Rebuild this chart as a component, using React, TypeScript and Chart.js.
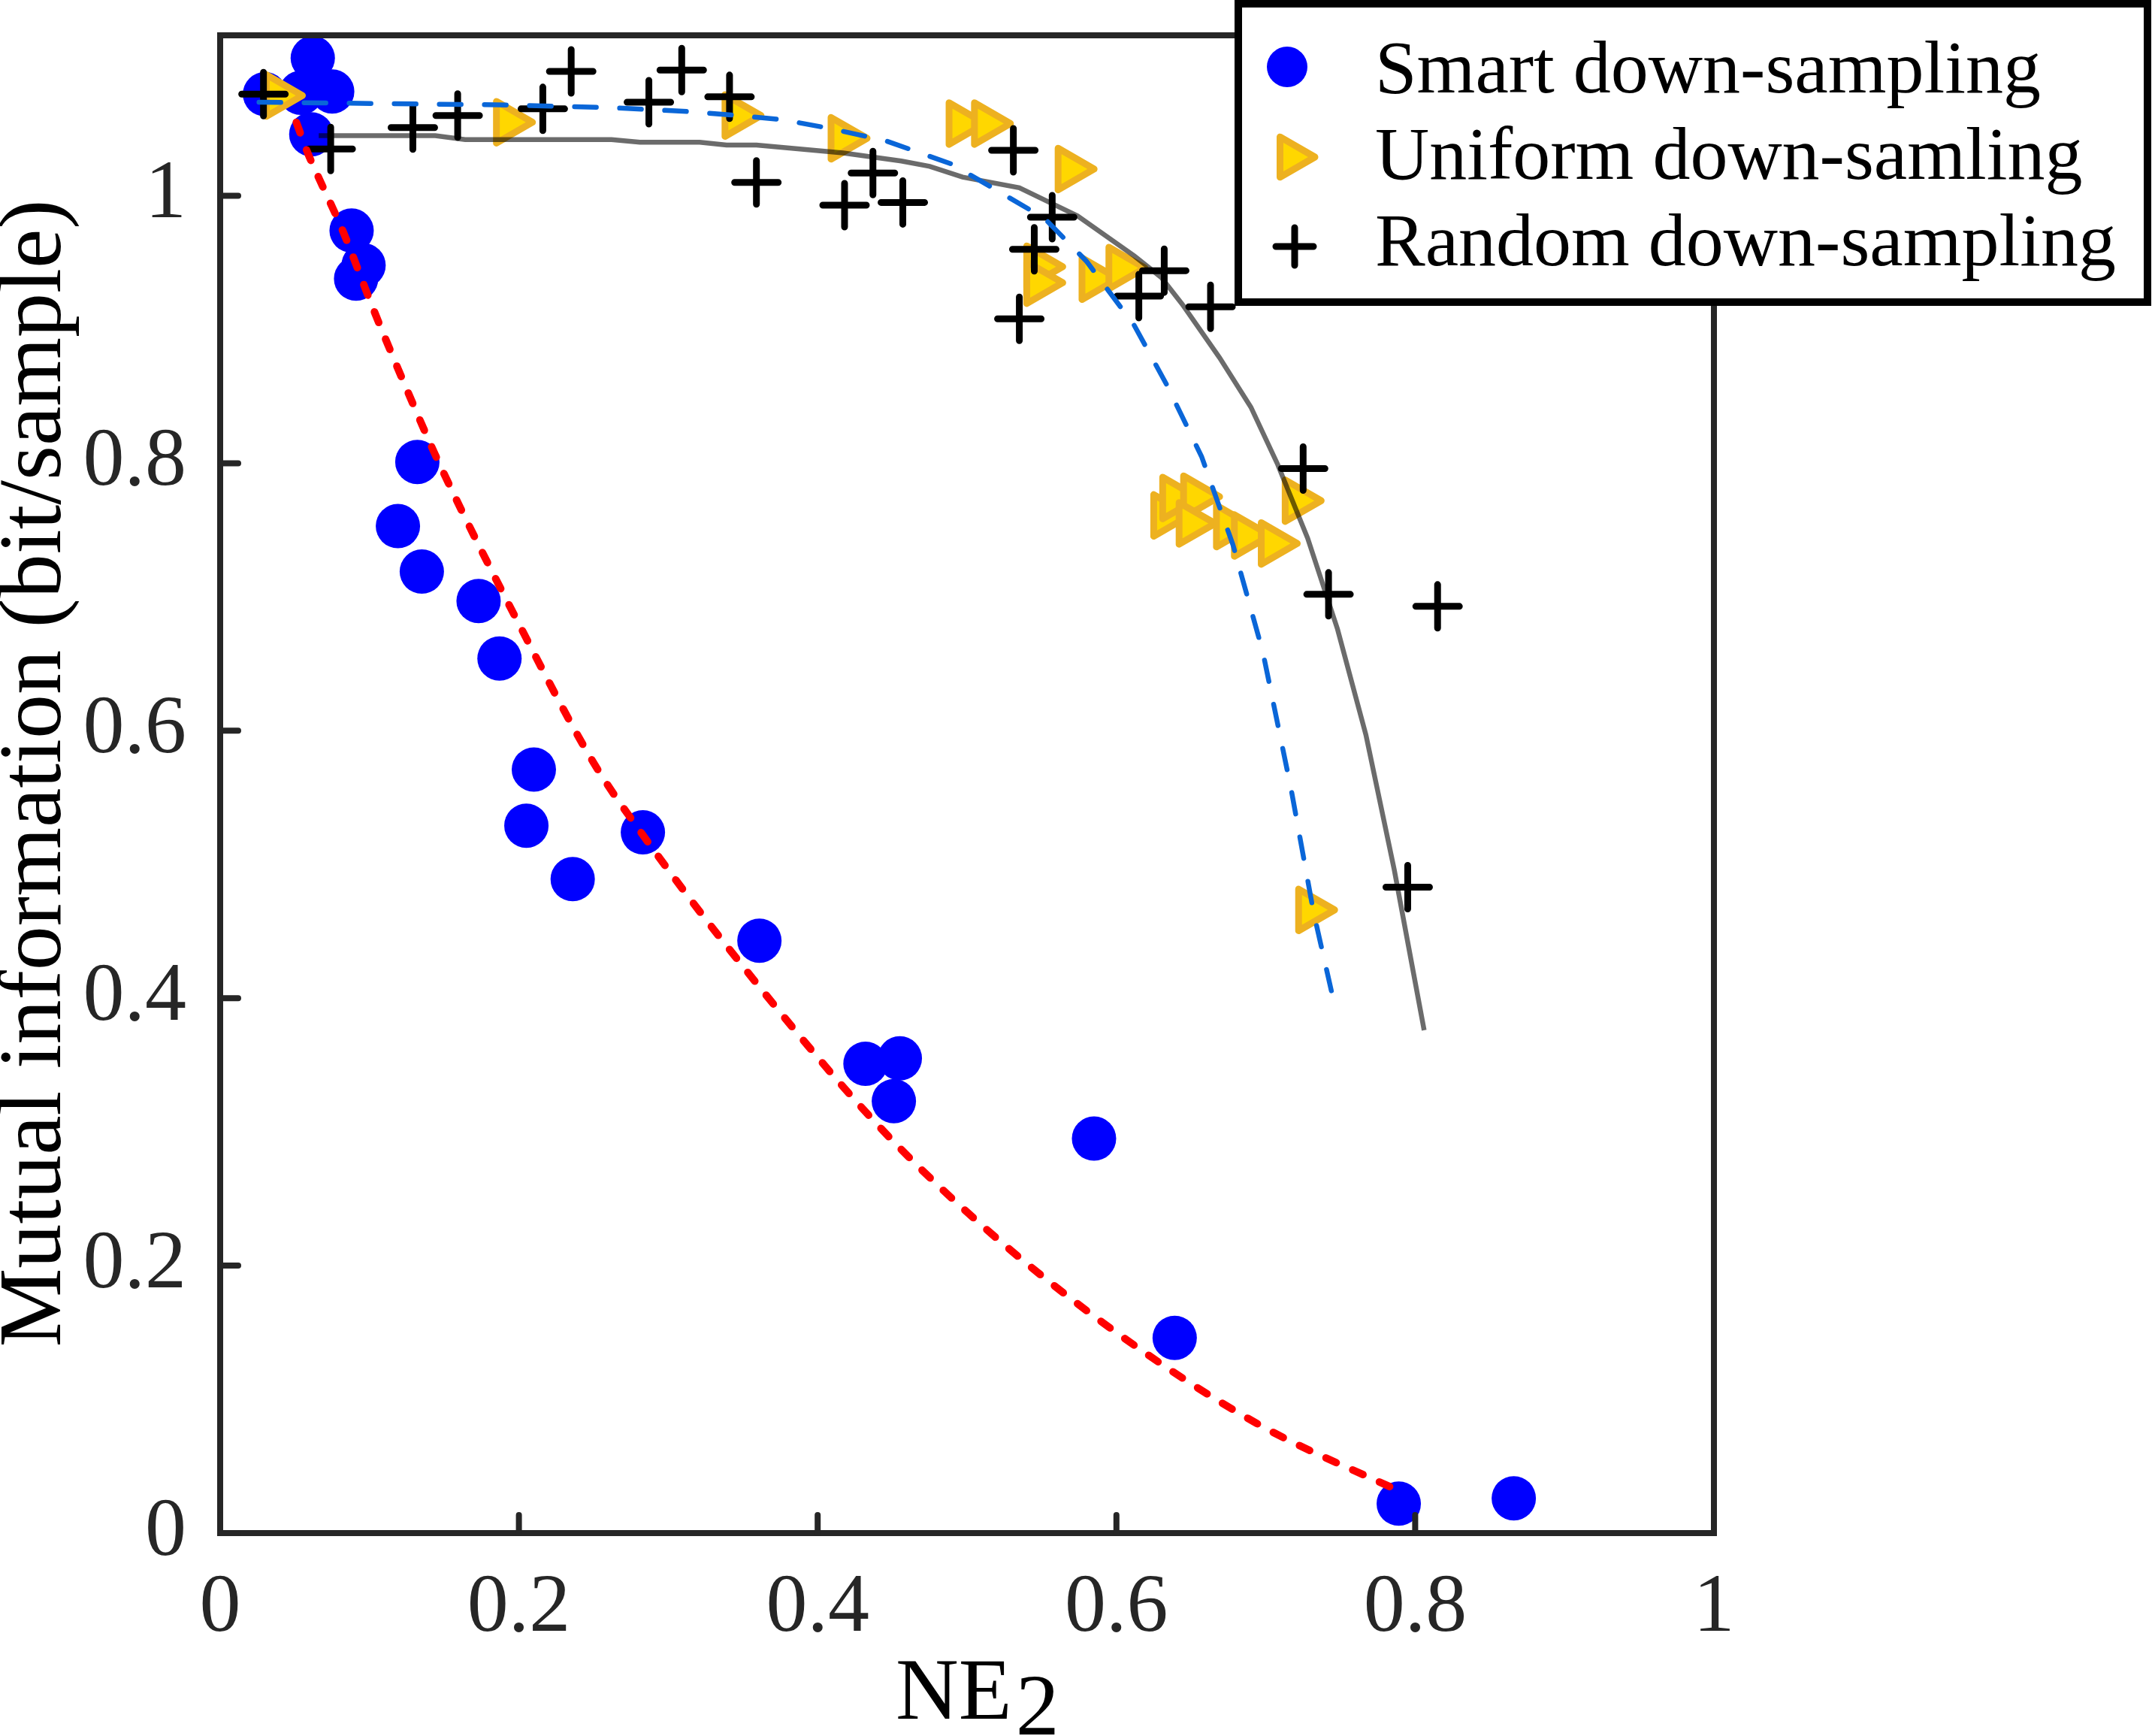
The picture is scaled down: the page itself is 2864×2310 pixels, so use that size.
import React, { useEffect, useRef } from 'react';
import { Chart, registerables } from 'chart.js';

Chart.register(...registerables);

const W = 2864;
const H = 2310;
const FONT = "'Liberation Serif', 'Times New Roman', serif";

// ---- tick labels / titles ----
const xTickValues = [0, 0.2, 0.4, 0.6, 0.8, 1];
const xTickLabels = ['0', '0.2', '0.4', '0.6', '0.8', '1'];
const yTickValues = [0, 0.2, 0.4, 0.6, 0.8, 1];
const yTickLabels = ['0', '0.2', '0.4', '0.6', '0.8', '1'];
const xTitleMain = 'NE';
const xTitleSub = '2';
const yTitle = 'Mutual information (bit/sample)';
const legendLabels = ['Smart down-sampling', 'Uniform down-samling', 'Random down-sampling'];

// ---- Smart down-sampling (blue circles) ----
const smartX = [0.030, 0.054, 0.075, 0.062, 0.061, 0.088, 0.096, 0.091, 0.132, 0.119, 0.135, 0.173, 0.187,
  0.210, 0.205, 0.236, 0.283, 0.361, 0.432, 0.455, 0.451, 0.585, 0.639, 0.789, 0.866];
const smartY = [1.076, 1.077, 1.078, 1.103, 1.046, 0.974, 0.948, 0.938, 0.801, 0.753, 0.719, 0.697, 0.654,
  0.571, 0.529, 0.489, 0.524, 0.443, 0.351, 0.355, 0.323, 0.295, 0.146, 0.022, 0.026];

// ---- Uniform down-sampling (yellow triangles) ----
const uniformX = [0.039, 0.193, 0.346, 0.417, 0.496, 0.513, 0.569, 0.548, 0.548, 0.585, 0.603,
  0.633, 0.639, 0.653, 0.650, 0.675, 0.687, 0.705, 0.721, 0.730];
const uniformY = [1.075, 1.055, 1.060, 1.043, 1.054, 1.054, 1.020, 0.947, 0.935, 0.938, 0.946,
  0.761, 0.774, 0.775, 0.755, 0.753, 0.746, 0.740, 0.772, 0.466];

// ---- Random down-sampling (black plus) ----
const randomX = [0.029, 0.074, 0.129, 0.159, 0.216, 0.235, 0.287, 0.309, 0.341, 0.359, 0.418, 0.437,
  0.457, 0.531, 0.557, 0.545, 0.535, 0.632, 0.615, 0.663, 0.725, 0.742, 0.815, 0.795];
const randomY = [1.076, 1.035, 1.051, 1.060, 1.065, 1.093, 1.070, 1.094, 1.074, 1.010, 0.993, 1.017,
  0.995, 1.034, 0.984, 0.960, 0.908, 0.944, 0.925, 0.917, 0.796, 0.702, 0.693, 0.483];

// ---- fitted curves ----
const smartFitX = [0.051, 0.059, 0.067, 0.082, 0.103, 0.125, 0.147, 0.199, 0.250, 0.283, 0.337, 0.437,
  0.507, 0.595, 0.694, 0.792];
const smartFitY = [1.055, 1.031, 1.011, 0.974, 0.914, 0.855, 0.799, 0.682, 0.576, 0.522, 0.442, 0.309,
  0.233, 0.154, 0.082, 0.030];

const uniformFitX = [0.026, 0.103, 0.186, 0.260, 0.314, 0.347, 0.376, 0.410, 0.446, 0.489, 0.517, 0.552,
  0.580, 0.612, 0.634, 0.657, 0.678, 0.698, 0.717, 0.732, 0.745];
const uniformFitY = [1.070, 1.069, 1.068, 1.066, 1.063, 1.060, 1.057, 1.050, 1.041, 1.024, 1.006, 0.983,
  0.951, 0.903, 0.858, 0.805, 0.739, 0.659, 0.556, 0.464, 0.400];

const randomFitX = [0.066, 0.144, 0.164, 0.262, 0.281, 0.321, 0.339, 0.359, 0.417, 0.456, 0.475, 0.497,
  0.535, 0.574, 0.612, 0.630, 0.644, 0.669, 0.690, 0.708, 0.728, 0.748, 0.767, 0.786, 0.806];
const randomFitY = [1.045, 1.045, 1.042, 1.042, 1.040, 1.040, 1.038, 1.038, 1.032, 1.026, 1.022, 1.014,
  1.006, 0.985, 0.955, 0.939, 0.919, 0.879, 0.842, 0.799, 0.744, 0.676, 0.597, 0.496, 0.376];

const pts = (xs: number[], ys: number[]) => xs.map((x, i) => ({ x, y: ys[i] }));

const AXIS_COLOR = '#262626';
const BLUE = '#0000FF';
const GOLD_FILL = '#FFD700';
const GOLD_EDGE = '#EDB120';

function drawTriangleRight(ctx: CanvasRenderingContext2D, cx: number, cy: number, r: number) {
  ctx.beginPath();
  ctx.moveTo(cx + r, cy);
  ctx.lineTo(cx - r / 2, cy - (r * Math.sqrt(3)) / 2);
  ctx.lineTo(cx - r / 2, cy + (r * Math.sqrt(3)) / 2);
  ctx.closePath();
}

const framePlugin = {
  id: 'matlabFrame',
  beforeDatasetsDraw(chart: any) {
    chart.ctx.lineJoin = 'round';
    chart.ctx.lineCap = 'round';
  },
  afterDatasetsDraw(chart: any) {
    const { ctx, chartArea: a, scales } = chart;
    ctx.save();
    ctx.lineJoin = 'miter';
    ctx.lineCap = 'butt';
    ctx.strokeStyle = AXIS_COLOR;
    ctx.lineWidth = 8;
    ctx.strokeRect(a.left, a.top, a.right - a.left, a.bottom - a.top);
    ctx.lineCap = 'round';
    for (const v of xTickValues) {
      const px = scales.x.getPixelForValue(v);
      ctx.beginPath();
      ctx.moveTo(px, a.bottom);
      ctx.lineTo(px, a.bottom - 24);
      ctx.stroke();
    }
    for (const v of yTickValues) {
      const py = scales.y.getPixelForValue(v);
      ctx.beginPath();
      ctx.moveTo(a.left, py);
      ctx.lineTo(a.left + 24, py);
      ctx.stroke();
    }
    ctx.restore();
  },
  afterDraw(chart: any) {
    const { ctx } = chart;
    ctx.save();
    // y title
    ctx.fillStyle = '#000';
    ctx.font = `118px ${FONT}`;
    ctx.textAlign = 'center';
    ctx.textBaseline = 'alphabetic';
    ctx.translate(80, 1029);
    ctx.rotate(-Math.PI / 2);
    ctx.fillText(yTitle, 0, 0);
    ctx.restore();

    // x title NE_2
    ctx.save();
    ctx.fillStyle = '#000';
    ctx.font = `116px ${FONT}`;
    ctx.textAlign = 'left';
    ctx.textBaseline = 'alphabetic';
    const wNE = ctx.measureText(xTitleMain).width;
    ctx.fillText(xTitleMain, 1192, 2287);
    ctx.fillText(xTitleSub, 1192 + wNE + 5, 2308);
    ctx.restore();

    // legend
    ctx.save();
    const lx = 1648, ly = 5, lw = 1210, lh = 397;
    ctx.fillStyle = '#fff';
    ctx.fillRect(lx, ly, lw, lh);
    ctx.strokeStyle = '#000';
    ctx.lineWidth = 10;
    ctx.lineJoin = 'miter';
    ctx.strokeRect(lx, ly, lw, lh);

    // circle
    ctx.fillStyle = BLUE;
    ctx.beginPath();
    ctx.arc(1713, 89, 27, 0, Math.PI * 2);
    ctx.fill();
    // triangle
    ctx.lineJoin = 'round';
    ctx.fillStyle = GOLD_FILL;
    ctx.strokeStyle = GOLD_EDGE;
    ctx.lineWidth = 9;
    drawTriangleRight(ctx, 1719, 209, 31);
    ctx.fill();
    ctx.stroke();
    // plus
    ctx.strokeStyle = '#000';
    ctx.lineWidth = 9;
    ctx.lineCap = 'round';
    ctx.beginPath();
    ctx.moveTo(1723 - 25, 328);
    ctx.lineTo(1723 + 25, 328);
    ctx.moveTo(1723, 328 - 25);
    ctx.lineTo(1723, 328 + 25);
    ctx.stroke();

    ctx.fillStyle = '#000';
    ctx.font = `100px ${FONT}`;
    ctx.textAlign = 'left';
    ctx.textBaseline = 'alphabetic';
    ctx.fillText(legendLabels[0], 1830, 123);
    ctx.fillText(legendLabels[1], 1830, 238);
    ctx.fillText(legendLabels[2], 1830, 353);
    ctx.restore();
  },
};

export default function App() {
  const ref = useRef<HTMLCanvasElement>(null);

  useEffect(() => {
    if (!ref.current) return;
    const chart = new Chart(ref.current, {
      type: 'scatter',
      data: {
        datasets: [
          {
            label: 'Smart fit',
            data: pts(smartFitX, smartFitY),
            showLine: true,
            borderColor: '#FF0000',
            borderWidth: 10,
            borderDash: [15, 24],
            borderCapStyle: 'round',
            pointRadius: 0,
            cubicInterpolationMode: 'monotone',
            order: 1,
          } as any,
          {
            label: 'Uniform fit',
            data: pts(uniformFitX, uniformFitY),
            showLine: true,
            borderColor: '#0A66D8',
            borderWidth: 6.5,
            borderDash: [29, 31],
            borderCapStyle: 'round',
            pointRadius: 0,
            tension: 0,
            order: 2,
          } as any,
          {
            label: 'Random fit',
            data: pts(randomFitX, randomFitY),
            showLine: true,
            borderColor: 'rgba(0,0,0,0.58)',
            borderWidth: 6.5,
            pointRadius: 0,
            tension: 0,
            order: 3,
          } as any,
          {
            label: legendLabels[2],
            data: pts(randomX, randomY),
            pointStyle: 'cross',
            pointRadius: 29,
            pointBorderColor: '#000',
            pointBorderWidth: 9,
            pointBackgroundColor: '#000',
            order: 4,
          } as any,
          {
            label: legendLabels[1],
            data: pts(uniformX, uniformY),
            pointStyle: 'triangle',
            pointRotation: 90,
            pointRadius: 32,
            pointBackgroundColor: GOLD_FILL,
            pointBorderColor: GOLD_EDGE,
            pointBorderWidth: 9,
            order: 5,
          } as any,
          {
            label: legendLabels[0],
            data: pts(smartX, smartY),
            pointStyle: 'circle',
            pointRadius: 29.5,
            pointBackgroundColor: BLUE,
            pointBorderColor: BLUE,
            pointBorderWidth: 0,
            order: 6,
          } as any,
        ],
      },
      options: {
        animation: false,
        responsive: false,
        devicePixelRatio: 1,
        events: [],
        layout: { padding: { left: 0, top: 47, right: W - 2281, bottom: 0 } },
        plugins: {
          legend: { display: false },
          tooltip: { enabled: false },
          title: { display: false },
        },
        scales: {
          x: {
            type: 'linear',
            min: 0,
            max: 1,
            grid: { display: false, drawTicks: false },
            border: { display: false },
            afterFit: (scale: any) => {
              scale.height = H - 2040;
              scale.paddingLeft = 0;
              scale.paddingRight = 0;
              scale.paddingTop = 0;
              scale.paddingBottom = 0;
            },
            afterBuildTicks: (scale: any) => {
              scale.ticks = xTickValues.map((v) => ({ value: v }));
            },
            ticks: {
              autoSkip: false,
              maxRotation: 0,
              minRotation: 0,
              padding: 35,
              color: AXIS_COLOR,
              font: { family: FONT, size: 110 },
              callback: (_v: any, i: number) => xTickLabels[i],
            },
          },
          y: {
            type: 'linear',
            min: 0,
            max: 1.12,
            grid: { display: false, drawTicks: false },
            border: { display: false },
            afterFit: (scale: any) => {
              scale.width = 293;
              scale.paddingTop = 0;
              scale.paddingBottom = 0;
              scale.paddingLeft = 0;
              scale.paddingRight = 0;
            },
            afterBuildTicks: (scale: any) => {
              scale.ticks = yTickValues.map((v) => ({ value: v }));
            },
            ticks: {
              autoSkip: false,
              padding: 45,
              color: AXIS_COLOR,
              font: { family: FONT, size: 110 },
              callback: (_v: any, i: number) => yTickLabels[i],
            },
          },
        },
      } as any,
      plugins: [framePlugin as any],
    });
    return () => chart.destroy();
  }, []);

  return (
    <div style={{ position: 'absolute', left: 0, top: 0, width: W, height: H, background: '#fff' }}>
      <canvas ref={ref} width={W} height={H} style={{ width: W, height: H, display: 'block' }} />
    </div>
  );
}
